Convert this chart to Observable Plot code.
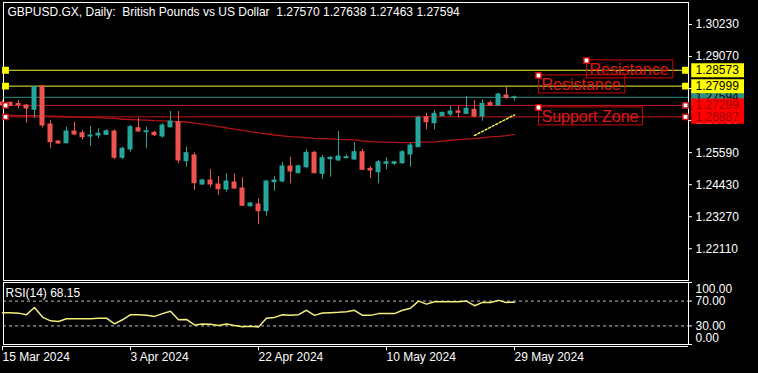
<!DOCTYPE html>
<html><head><meta charset="utf-8">
<script src="https://cdn.jsdelivr.net/npm/d3@7"></script>
<script src="https://cdn.jsdelivr.net/npm/@observablehq/plot@0.6"></script>
<style>html,body{margin:0;padding:0;background:#000;} svg{display:block;}</style>
</head><body><div id="chart"></div>
<script>
// ---------- data ----------
const chartTitle = "GBPUSD.GX, Daily:\u00a0\u00a0British Pounds vs US Dollar\u00a0\u00a01.27570 1.27638 1.27463 1.27594";
const rsiTitle = "RSI(14) 68.15";
const opens  = [1.27406,1.27395,1.27352,1.27297,1.27142,1.27985,1.26609,1.25994,1.25932,1.26356,1.26294,1.26175,1.26211,1.26236,1.26356,1.25404,1.25704,1.26475,1.26331,1.26309,1.26175,1.26512,1.26693,1.25281,1.25487,1.24437,1.24582,1.24437,1.24256,1.24509,1.24292,1.23651,1.23713,1.23470,1.24520,1.24546,1.25089,1.24846,1.25063,1.25585,1.24824,1.25353,1.25306,1.25389,1.25342,1.25606,1.25005,1.24882,1.25186,1.25186,1.25208,1.25523,1.25788,1.26874,1.26656,1.26910,1.26971,1.27080,1.26997,1.27142,1.26899,1.27381,1.27297,1.27659,1.27570];
const highs  = [1.27478,1.27420,1.27478,1.27334,1.27985,1.28021,1.26754,1.26012,1.26512,1.26693,1.26392,1.26537,1.26454,1.26417,1.26417,1.25788,1.26573,1.26837,1.26512,1.26356,1.26635,1.27080,1.27080,1.25788,1.25585,1.24629,1.24980,1.24727,1.24824,1.24824,1.24680,1.23796,1.23919,1.24582,1.24727,1.25244,1.25425,1.25125,1.25693,1.25632,1.25487,1.25451,1.26356,1.25512,1.25947,1.25704,1.25089,1.25306,1.25404,1.25270,1.25668,1.25932,1.26910,1.27018,1.27116,1.27055,1.27261,1.27261,1.27623,1.27478,1.27504,1.27453,1.27743,1.27960,1.27638];
const lows   = [1.27261,1.27261,1.27178,1.26656,1.26827,1.26475,1.25730,1.25903,1.25911,1.26211,1.26055,1.25824,1.26092,1.26211,1.25342,1.25342,1.25606,1.26331,1.25730,1.26175,1.26113,1.26475,1.25186,1.25063,1.24220,1.24401,1.24317,1.24039,1.24158,1.24256,1.23640,1.23615,1.22978,1.23289,1.24194,1.24499,1.24462,1.24835,1.25005,1.24824,1.24618,1.24701,1.25281,1.25368,1.25306,1.24944,1.24665,1.24462,1.24969,1.25125,1.25161,1.25063,1.25788,1.26417,1.26417,1.26899,1.26899,1.26837,1.26971,1.26852,1.26729,1.27297,1.27297,1.27525,1.27463];
const closes = [1.27297,1.27286,1.27315,1.27189,1.27960,1.26573,1.25968,1.25921,1.26356,1.26247,1.26150,1.26211,1.26273,1.26367,1.25404,1.25730,1.26512,1.26356,1.26367,1.26222,1.26573,1.26718,1.25306,1.25570,1.24484,1.24582,1.24437,1.24267,1.24546,1.24292,1.23666,1.23749,1.23470,1.24546,1.24582,1.25089,1.24908,1.25100,1.25585,1.24846,1.25389,1.25404,1.25451,1.25425,1.25606,1.24969,1.24944,1.25244,1.25244,1.25244,1.25606,1.25849,1.26852,1.26693,1.26997,1.27033,1.27080,1.27033,1.27178,1.26899,1.27359,1.27297,1.27696,1.27576,1.27594];
const movingAvg = [1.2694,1.2694,1.2693,1.2693,1.2693,1.2692,1.2691,1.2690,1.2689,1.2688,1.2688,1.2687,1.2686,1.2684,1.2683,1.2680,1.2679,1.2678,1.2677,1.2675,1.2674,1.2672,1.2671,1.2670,1.2666,1.2662,1.2658,1.2653,1.2649,1.2644,1.2640,1.2635,1.2631,1.2627,1.2623,1.2620,1.2617,1.2615,1.2613,1.2611,1.2610,1.2609,1.2607,1.2606,1.2605,1.2602,1.2599,1.2598,1.2597,1.2596,1.2595,1.2595,1.2596,1.2597,1.2598,1.2601,1.2604,1.2606,1.2608,1.2610,1.2613,1.2616,1.2618,1.2621,1.2625];
const rsi14 = [51.4,51.4,50.6,48.1,59.6,44.2,38.2,37.1,41.5,41.5,41.5,41.5,42.5,42.5,33.3,39.9,48.1,48.1,47.0,45.3,49.8,53.5,39.9,40.4,31.6,33.0,32.5,30.8,33.0,30.5,28.8,29.3,28.4,42.5,43.7,48.1,47.0,48.1,55.2,47.0,50.7,51.4,51.9,52.7,55.2,47.0,47.0,49.8,49.8,49.8,55.2,58.5,70.0,65.1,68.8,68.8,68.8,68.8,70.0,62.6,67.9,67.9,71.2,67.9,68.15];
const priceTicks = [1.30230,1.29070,1.27910,1.26750,1.25590,1.24430,1.23270,1.22110];
const levelPrices = [1.27594,1.28573,1.27999,1.27299,1.26887];
const levelKinds  = ["bid","resistance","resistance","support","support"];
const noteLabels = ["Resistance","Resistance","Support Zone"];
const noteBars   = [73,67,67];
const notePrices = [1.28927,1.28383,1.27225];
const trendBars   = [59,64];
const trendPrices = [1.26211,1.26960];
const rsiLevels = [100,70,30,0];
const rsiDashed = [70,30];
const timeTickBars   = [0,16,32,48,64];
const timeTickLabels = ["15 Mar 2024","3 Apr 2024","22 Apr 2024","10 May 2024","29 May 2024"];

// ---------- build ----------
const candles = opens.map((o,i)=>({k:i, open:o, high:highs[i], low:lows[i], close:closes[i]}));
const bull = candles.filter(d=>d.close>=d.open), bear = candles.filter(d=>d.close<d.open);
const maData = movingAvg.map((v,k)=>({k,v}));
const rsiData = rsi14.map((v,k)=>({k,v}));
const levels = levelPrices.map((p,i)=>({price:p, kind:levelKinds[i]}));
const notes = noteLabels.map((t,i)=>({label:t, k:noteBars[i], p:notePrices[i]}));
const trend = trendBars.map((k,i)=>({k, p:trendPrices[i]}));
const timeTicks = timeTickBars.map((k,i)=>({k, label:timeTickLabels[i]}));

const BULL="#26a69a", BEAR="#ef5350", YEL="#f2f23c", RED="#c41414", TEAL="#2a8f85";
const lv = {bid:{line:TEAL, box:TEAL, text:"#000"}, resistance:{line:YEL, box:"#ffff00", text:"#000"}, support:{line:RED, box:"#ff0000", text:"#a00000"}};
const xDom = [0.125, 85.75], xR = xDom[1];
const fmt5 = d=>d.toFixed(5), fmt2 = d=>d.toFixed(2);
const baseStyle = {background:"#000", color:"#fff", fontFamily:"'Liberation Sans', Arial, sans-serif", fontSize:"12px", overflow:"visible"};

const boxMarks = [];
for (const l of levels) {
  boxMarks.push(Plot.ruleY([l.price], {x1: xR+0.4, x2: xR+7, stroke: lv[l.kind].box, strokeWidth: 14}));
  boxMarks.push(Plot.text([l.price], {y: d=>d, text: fmt5, frameAnchor:"right", dx:7, textAnchor:"start", fill: lv[l.kind].text}));
}

const main = Plot.plot({
  width:758, height:282, marginLeft:3, marginRight:70, marginTop:2, marginBottom:2,
  style: baseStyle,
  x:{domain:xDom, axis:null},
  y:{domain:[1.20961,1.31027], axis:null},
  marks:[
    Plot.frame({stroke:"#fff"}),
    Plot.text([chartTitle], {text:d=>d, frameAnchor:"top-left", dx:4, dy:9.5, textAnchor:"start", lineAnchor:"middle", fill:"#fff"}),
    ...levels.map(l=>Plot.ruleY([l.price], {stroke: lv[l.kind].line})),
    Plot.line(maData, {x:"k", y:"v", stroke:"#b01515", strokeWidth:1.3}),
    Plot.ruleX(bull, {x:"k", y1:"low", y2:"high", stroke:BULL}),
    Plot.ruleX(bear, {x:"k", y1:"low", y2:"high", stroke:BEAR}),
    Plot.rect(bull, {x1:d=>d.k-0.3125, x2:d=>d.k+0.3125, y1:"open", y2:"close", fill:BULL, insetTop:-0.5, insetBottom:-0.5}),
    Plot.rect(bear, {x1:d=>d.k-0.3125, x2:d=>d.k+0.3125, y1:"open", y2:"close", fill:BEAR, insetTop:-0.5, insetBottom:-0.5}),
    Plot.line(trend, {x:"k", y:"p", stroke:YEL, strokeDasharray:"2,2"}),
    Plot.dot(levels.filter(l=>l.kind==="resistance"), {y:"price", frameAnchor:"left", dx:2, symbol:"square", r:3, fill:"#ffff00", stroke:"#ffff00"}),
    Plot.dot(levels.filter(l=>l.kind==="support"), {y:"price", frameAnchor:"left", dx:2, symbol:"square", r:3, fill:"#fff", stroke:RED, strokeWidth:1.5}),
    Plot.dot(levels.filter(l=>l.kind==="resistance"), {y:"price", frameAnchor:"right", dx:-3, symbol:"square", r:3, fill:"#ffff00", stroke:"#ffff00"}),
    Plot.dot(levels.filter(l=>l.kind==="support"), {y:"price", frameAnchor:"right", dx:-3, symbol:"square", r:3, fill:"#fff", stroke:RED, strokeWidth:1.5}),
    Plot.text(notes, {x:"k", y:"p", text:"label", textAnchor:"start", lineAnchor:"top", dx:3, dy:3, fill:"#e01515", fontSize:16}),
    Plot.ruleY(priceTicks, {y:d=>d, x1:xR, x2:xR+0.5, stroke:"#fff"}),
    Plot.text(priceTicks, {y:d=>d, text:fmt5, frameAnchor:"right", dx:7, textAnchor:"start", fill:"#fff"}),
    ...boxMarks,
    Plot.dot(notes, {x:"k", y:"p", symbol:"square", r:3, fill:"#fff", stroke:"#cc0000", strokeWidth:1.5})
  ]
});

const AXIS_Y = -3.2; // time axis line just below the RSI panel (in RSI units)
const rsiPlot = Plot.plot({
  width:758, height:91, marginLeft:3, marginRight:70, marginTop:0, marginBottom:29,
  style: baseStyle,
  x:{domain:xDom, axis:null},
  y:{domain:[0,100], axis:null},
  marks:[
    Plot.frame({stroke:"#fff"}),
    Plot.ruleY(rsiDashed, {y:d=>d, stroke:"#bdbdbd", strokeDasharray:"3,3"}),
    Plot.line(rsiData, {x:"k", y:"v", stroke:"#f2ee7a"}),
    Plot.text([rsiTitle], {text:d=>d, frameAnchor:"top-left", dx:2, dy:11, textAnchor:"start", lineAnchor:"middle", fill:"#fff"}),
    Plot.ruleY(rsiLevels, {y:d=>d, x1:xR, x2:xR+0.5, stroke:"#fff"}),
    Plot.text(rsiLevels.filter(v=>v>0&&v<100), {y:d=>d, text:fmt2, frameAnchor:"right", dx:7, textAnchor:"start", fill:"#fff"}),
    Plot.text(rsiLevels.filter(v=>v===100), {y:d=>d, text:fmt2, frameAnchor:"right", dx:7, dy:7, textAnchor:"start", fill:"#fff"}),
    Plot.text(rsiLevels.filter(v=>v===0), {y:d=>d, text:fmt2, frameAnchor:"right", dx:7, dy:-6, textAnchor:"start", fill:"#fff"}),
    Plot.ruleY([AXIS_Y], {stroke:"#fff"}),
    Plot.ruleX(timeTicks, {x:"k", y1:AXIS_Y, y2:AXIS_Y-7, stroke:"#fff"}),
    Plot.text(timeTicks, {x:"k", text:"label", frameAnchor:"bottom", dy:16, textAnchor:"start", fill:"#fff"})
  ]
});

const host = document.getElementById("chart");
host.appendChild(main);
host.appendChild(rsiPlot);

// boxes around the chart's text objects, sized from the rendered text
const ns = "http://www.w3.org/2000/svg";
const svgRoot = main.tagName.toLowerCase() === "svg" ? main : main.querySelector("svg");
const mainBox = svgRoot.getBoundingClientRect();
const boxLayer = document.createElementNS(ns, "g");
svgRoot.appendChild(boxLayer);
Array.from(svgRoot.querySelectorAll("text"))
  .filter(t => noteLabels.includes(t.textContent.trim()))
  .forEach(t => {
    const b = t.getBoundingClientRect();
    const r = document.createElementNS(ns, "rect");
    r.setAttribute("x", b.left - mainBox.left - 3);
    r.setAttribute("y", b.top - mainBox.top - 1);
    r.setAttribute("width", b.width + 7);
    r.setAttribute("height", b.height + 1);
    r.setAttribute("fill", "none");
    r.setAttribute("stroke", "#cc0000");
    boxLayer.appendChild(r);
  });
// keep the anchor squares on top of the boxes
const dotsGroups = svgRoot.querySelectorAll("g[aria-label='dot']");
if (dotsGroups.length) svgRoot.appendChild(dotsGroups[dotsGroups.length-1]);
</script></body></html>
